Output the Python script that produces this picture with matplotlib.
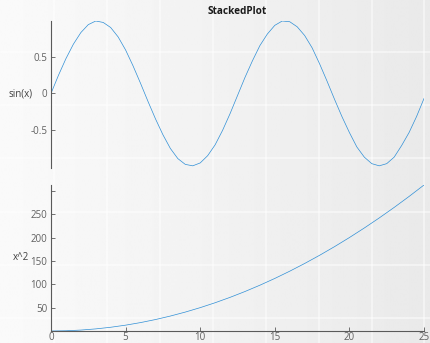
import numpy as np
import matplotlib
matplotlib.use("Agg")
import matplotlib.pyplot as plt

plt.rcParams['font.family'] = ['Open Sans', 'DejaVu Sans']

# ---- data ----
t_sin = [0, 0.5, 1, 1.5, 2, 2.5, 3, 3.5, 4, 4.5, 5, 5.5, 6, 6.5, 7, 7.5, 8, 8.5, 9, 9.5,
         10, 10.5, 11, 11.5, 12, 12.5, 13, 13.5, 14, 14.5, 15, 15.5, 16, 16.5, 17, 17.5,
         18, 18.5, 19, 19.5, 20, 20.5, 21, 21.5, 22, 22.5, 23, 23.5, 24, 24.5, 25]
sin_vals = [0.00, 0.25, 0.48, 0.68, 0.84, 0.95, 1.00, 0.98, 0.91, 0.78, 0.60, 0.38, 0.14,
            -0.11, -0.35, -0.57, -0.76, -0.90, -0.98, -1.00, -0.96, -0.86, -0.71, -0.51,
            -0.28, -0.03, 0.22, 0.45, 0.66, 0.82, 0.94, 1.00, 0.99, 0.92, 0.80, 0.63, 0.41,
            0.17, -0.08, -0.32, -0.54, -0.74, -0.88, -0.97, -1.00, -0.97, -0.88, -0.72,
            -0.54, -0.32, -0.07]
t_sq = [0, 1, 2, 3, 4, 5, 6, 7, 8, 9, 10, 11, 12, 13, 14, 15, 16, 17, 18, 19, 20, 21, 22,
        23, 24, 25]
sq_vals = [0, 0.5, 2, 4.5, 8, 12.5, 18, 24.5, 32, 40.5, 50, 60.5, 72, 84.5, 98, 112.5, 128,
           144.5, 162, 180.5, 200, 220.5, 242, 264.5, 288, 312.5]
sin_ticks = [-0.5, 0, 0.5]
sin_ticklabels = ['-0.5', '0', '0.5']
sq_ticks = [50, 100, 150, 200, 250, 300]
sq_ticklabels = ['50', '100', '150', '200', '250', '']
x_ticks = [0, 5, 10, 15, 20, 25]
x_ticklabels = ['0', '5', '10', '15', '20', '25']
title = 'StackedPlot'
ylabels = ['sin(x)', 'x^2']

W, H = 430, 343
fig = plt.figure(figsize=(W / 100, H / 100), dpi=100)

# background: soft grey gradient with faint white grid texture
bg = fig.add_axes([0, 0, 1, 1], zorder=-10)
grad = np.linspace(0.98, 0.915, 256)[None, :]
bg.imshow(grad, cmap='gray', vmin=0, vmax=1, aspect='auto',
          extent=[0, W, H, 0], interpolation='bilinear')
for gx in [54, 107, 160, 213, 266, 319, 372, 424]:
    bg.axvline(gx, color='white', lw=1.2, alpha=0.55)
for gy in [52, 105, 158, 212, 265, 318]:
    bg.axhline(gy, color='white', lw=1.2, alpha=0.55)
bg.set_xlim(0, W)
bg.set_ylim(H, 0)
bg.axis('off')

left = 51 / W
width = 373 / W
ax1 = fig.add_axes([left, (H - 168) / H, width, 147 / H])
ax2 = fig.add_axes([left, (H - 331) / H, width, 146 / H])

line_color = '#2f8fd6'
axis_color = '#5a5a5a'
label_color = '#606060'

ax1.plot(t_sin, sin_vals, color=line_color, lw=0.5)
ax2.plot(t_sq, sq_vals, color=line_color, lw=0.5)

for ax in (ax1, ax2):
    ax.patch.set_alpha(0)
    ax.set_xlim(0, 25)
    for s in ('top', 'right'):
        ax.spines[s].set_visible(False)
    ax.spines['left'].set_color(axis_color)
    ax.spines['left'].set_linewidth(0.8)
    ax.tick_params(direction='in', length=3, width=0.6, color=axis_color,
                   labelcolor=label_color, labelsize=7, pad=2.5)

ax1.set_ylim(-1.03, 1.0)
ax1.spines['bottom'].set_visible(False)
ax1.set_xticks([])
ax1.set_yticks(sin_ticks)
ax1.set_yticklabels(sin_ticklabels)

ax2.set_ylim(0, 312.5)
ax2.spines['bottom'].set_color(axis_color)
ax2.spines['bottom'].set_linewidth(0.8)
ax2.set_yticks(sq_ticks)
ax2.set_yticklabels(sq_ticklabels)
ax2.set_xticks(x_ticks)
ax2.set_xticklabels(x_ticklabels)
ax2.tick_params(axis='x', pad=1.0)

for ax, lab, lx in zip((ax1, ax2), ylabels, (-0.048, -0.058)):
    ax.set_ylabel(lab, rotation=0, fontsize=7, color='#404040', ha='right', va='center')
    ax.yaxis.set_label_coords(lx, 0.5)

fig.text(237 / W, 1 - 12 / H, title, ha='center', va='center',
         fontsize=7.2, fontweight='bold', color='#1a1a1a')

fig.savefig('out.png', dpi=100)
